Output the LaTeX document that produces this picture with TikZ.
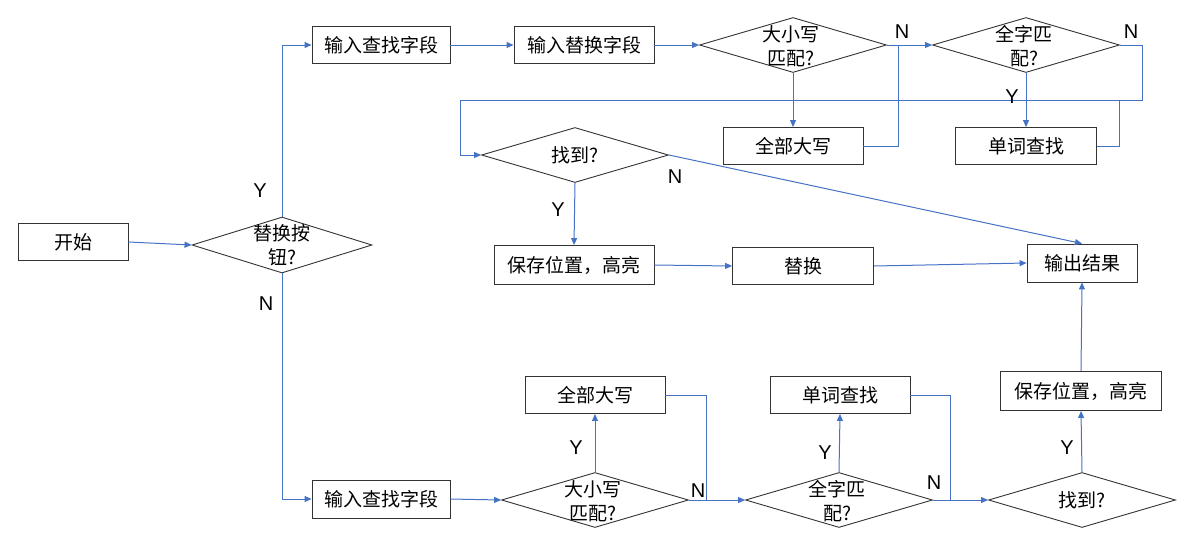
\documentclass[tikz,border=0pt]{standalone}
\usepackage{fontspec}
\setmainfont{Noto Sans CJK SC}
\newfontfamily\latinlbl{Liberation Sans}
\usetikzlibrary{arrows.meta,shapes.geometric}
\definecolor{bl}{HTML}{4472C4}
\begin{document}
\begin{tikzpicture}[x=1pt,y=-1pt,
  txt/.style={font=\fontsize{19}{24}\selectfont},
  box/.style={txt,draw=black!80,line width=0.9pt,inner sep=0pt,minimum height=37pt},
  dia/.style={draw=black!80,line width=0.9pt,shape=diamond,inner sep=0pt,minimum width=187pt,minimum height=55pt},
  dtext/.style={txt,align=center,inner sep=0pt},
  conn/.style={draw=bl,line width=1pt},
  arr/.style={conn,-{Triangle[length=7pt,width=6pt]}},
  lbl/.style={font=\latinlbl\fontsize{20}{24}\selectfont,inner sep=0pt}
]
\useasboundingbox (0,0) rectangle (1199,539);

% top branch
\node[box,minimum width=110pt] (start) at (73,242) {开始};
\node[dia,minimum width=180pt,minimum height=56pt] (q) at (282,245) {};
\node[dtext] (qt) at (282,245) {替换按\\钮?};
\node[box,minimum width=138pt] (in1) at (381,45) {输入查找字段};
\node[box,minimum width=140pt] (in2) at (584,45) {输入替换字段};
\node[dia] (case1) at (793,45) {};
\node[dtext] (case1t) at (791,46) {大小写\\匹配?};
\node[dia] (whole1) at (1026,45) {};
\node[dtext] (whole1t) at (1024,46) {全字匹\\配?};
\node[box,minimum width=140pt] (upper1) at (793,146) {全部大写};
\node[box,minimum width=141pt] (word1) at (1026,146) {单词查找};
\node[dia] (found1) at (575,155) {};
\node[dtext] (found1t) at (575,155) {找到?};
\node[box,minimum width=160pt,minimum height=39pt] (save1) at (574,265) {保存位置，高亮};
\node[box,minimum width=141pt] (rep) at (803,266) {替换};
\node[box,minimum width=110pt,minimum height=38pt] (out) at (1082,263) {输出结果};

% bottom branch
\node[box,minimum width=138pt,minimum height=38pt] (in1b) at (381,499) {输入查找字段};
\node[dia] (case2) at (595,500) {};
\node[dtext] (case2t) at (593,501) {大小写\\匹配?};
\node[box,minimum width=140pt] (upper2) at (595,395) {全部大写};
\node[dia] (whole2) at (839,500) {};
\node[dtext] (whole2t) at (837,501) {全字匹\\配?};
\node[box,minimum width=140pt] (word2) at (840,395) {单词查找};
\node[dia] (found2) at (1082,500) {};
\node[dtext] (found2t) at (1082,500) {找到?};
\node[box,minimum width=161pt,minimum height=39pt] (save2) at (1081,391) {保存位置，高亮};

% helper coordinates
\coordinate (j1) at (898,45);
\coordinate (r1) at (1142,45);
\coordinate (r2) at (1142,100);
\coordinate (j2) at (1119,100);
\coordinate (l1) at (460,100);
\coordinate (l2) at (460,155);
\coordinate (j3) at (706,500);
\coordinate (j4) at (950,500);

% connectors
\draw[arr] (start.east) -- (q.west);
\draw[arr] (q.north) |- (in1.west);
\draw[arr] (in1.east) -- (in2.west);
\draw[arr] (in2.east) -- (case1.west);
\draw[arr] (case1.east) -- (whole1.west);
\draw[arr] (case1.south) -- (upper1.north);
\draw[conn] (upper1.east) -| (j1);
\draw[arr] (whole1.south) -- (word1.north);
\draw[arr] (whole1.east) -- (r1) -- (r2) -- (l1) -- (l2) -- (found1.west);
\draw[conn] (word1.east) -| (j2);
\draw[arr] (found1.east) -- (out.north);
\draw[arr] (found1.south) -- (save1.north);
\draw[arr] (save1.east) -- (rep.west);
\draw[arr] (rep.east) -- (out.west);

\draw[arr] (q.south) |- (in1b.west);
\draw[arr] (in1b.east) -- (case2.west);
\draw[arr] (case2.north) -- (upper2.south);
\draw[conn] (upper2.east) -| (j3);
\draw[arr] (case2.east) -- (whole2.west);
\draw[arr] (whole2.north) -- (word2.south);
\draw[conn] (word2.east) -| (j4);
\draw[arr] (whole2.east) -- (found2.west);
\draw[arr] (found2.north) -- (save2.south);
\draw[arr] (save2.north) -- (out.south);

% Y / N labels
\node[lbl] (ly1) at (260,191) {Y};
\node[lbl] (ln1) at (266,304) {N};
\node[lbl] (ln2) at (902,32) {N};
\node[lbl] (ln3) at (1131,32) {N};
\node[lbl] (ly2) at (1012,97) {Y};
\node[lbl] (ln4) at (675,177) {N};
\node[lbl] (ly3) at (558,210) {Y};
\node[lbl] (ly4) at (576,448) {Y};
\node[lbl] (ln5) at (698,491) {N};
\node[lbl] (ly5) at (825,453) {Y};
\node[lbl] (ln6) at (934,483) {N};
\node[lbl] (ly6) at (1067,448) {Y};
\end{tikzpicture}
\end{document}
